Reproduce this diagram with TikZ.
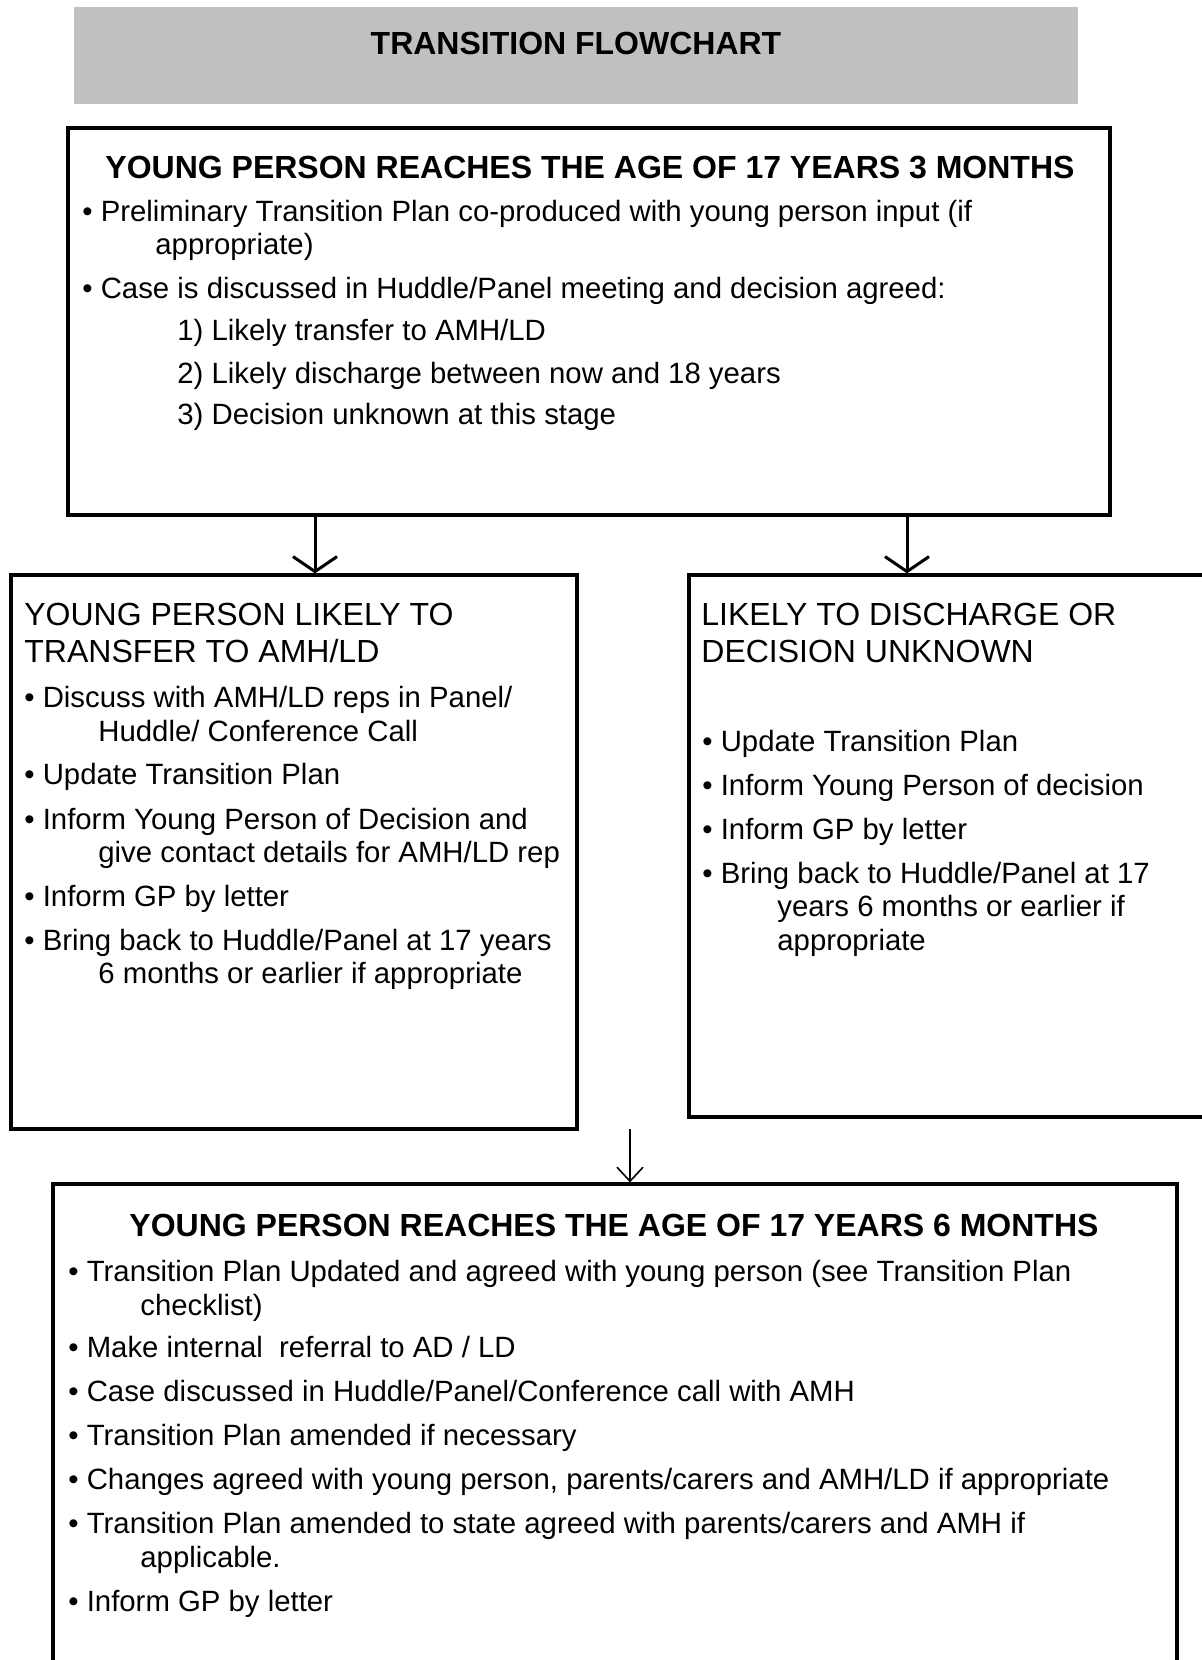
\documentclass[tikz,border=0pt]{standalone}
\usepackage{fontspec}
\setmainfont{Liberation Sans}
\usetikzlibrary{arrows.meta}
\usetikzlibrary{fit}
\definecolor{bannergray}{RGB}{192,192,192}

\tikzset{
  box/.style={draw=black, line width=1.6pt, inner sep=0pt},
  head/.style={font=\fontsize{16}{19}\selectfont\bfseries, inner sep=0pt, anchor=base},
  subhead/.style={font=\fontsize{16}{19}\selectfont, inner sep=0pt, anchor=base west},
  txt/.style={font=\fontsize{14.67}{17}\selectfont, inner sep=0pt, anchor=base west},
  arr/.style={line width=1.5pt, ->, >={Straight Barb[length=7.5pt,width=22pt]}},
}

\begin{document}
\begin{tikzpicture}[x=0.5pt, y=-0.5pt]
\clip (0,0) rectangle (1202,1660);
\node[fill=bannergray, inner sep=0pt, fit={(74,7) (1078,104)}] (banner) {};
\node[head] (title) at (576,54) {TRANSITION FLOWCHART};
% boxes
\node[box, fit={(68,128) (1110,515)}] (age3) {};
\node[box, fit={(11,575) (577,1129)}] (transfer) {};
\node[box, fit={(689,575) (1215,1117)}] (discharge) {};
\node[box, fit={(53,1184) (1177,1700)}] (age6) {};
% 17 years 3 months
\node[head] (age3title) at (590,178) {YOUNG PERSON REACHES THE AGE OF 17 YEARS 3 MONTHS};
\foreach \x/\y/\t [count=\i] in {
  82/221/{• Preliminary Transition Plan co-produced with young person input (if},
  155/254/{appropriate)},
  82/298/{• Case is discussed in Huddle/Panel meeting and decision agreed:},
  177/340/{1) Likely transfer to AMH/LD},
  177/383/{2) Likely discharge between now and 18 years},
  177/424/{3) Decision unknown at this stage}}
  \node[txt] (age3l\i) at (\x,\y) {\t};
% transfer
\node[subhead] (transfercap1) at (24,625) {YOUNG PERSON LIKELY TO};
\node[subhead] (transfercap2) at (24,662) {TRANSFER TO AMH/LD};
\foreach \x/\y/\t [count=\i] in {
  24/707/{• Discuss with AMH/LD reps in Panel/},
  98/741/{Huddle/ Conference Call},
  24/784/{• Update Transition Plan},
  24/829/{• Inform Young Person of Decision and},
  98/862/{give contact details for AMH/LD rep},
  24/906/{• Inform GP by letter},
  24/950/{• Bring back to Huddle/Panel at 17 years},
  98/983/{6 months or earlier if appropriate}}
  \node[txt] (transferl\i) at (\x,\y) {\t};
% discharge
\node[subhead] (dischargecap1) at (701,625) {LIKELY TO DISCHARGE OR};
\node[subhead] (dischargecap2) at (701,662) {DECISION UNKNOWN};
\foreach \x/\y/\t [count=\i] in {
  702/751/{• Update Transition Plan},
  702/795/{• Inform Young Person of decision},
  702/839/{• Inform GP by letter},
  702/883/{• Bring back to Huddle/Panel at 17},
  777/916/{years 6 months or earlier if},
  777/950/{appropriate}}
  \node[txt] (dischargel\i) at (\x,\y) {\t};
% 17 years 6 months
\node[head] (age6title) at (614,1236) {YOUNG PERSON REACHES THE AGE OF 17 YEARS 6 MONTHS};
\foreach \x/\y/\t [count=\i] in {
  68/1281/{• Transition Plan Updated and agreed with young person (see Transition Plan},
  140/1315/{checklist)},
  68/1357/{• Make internal\ \ referral to AD / LD},
  68/1401/{• Case discussed in Huddle/Panel/Conference call with AMH},
  68/1445/{• Transition Plan amended if necessary},
  68/1489/{• Changes agreed with young person, parents/carers and AMH/LD if appropriate},
  68/1533/{• Transition Plan amended to state agreed with parents/carers and AMH if},
  140/1567/{applicable.},
  68/1611/{• Inform GP by letter}}
  \node[txt] (age6l\i) at (\x,\y) {\t};
% arrows
\path (315,0) coordinate (d1) (907,0) coordinate (d2) (630,1129) coordinate (d3);
\draw[arr] (age3.south -| d1) -- (transfer.north -| d1);
\draw[arr] (age3.south -| d2) -- (discharge.north -| d2);
\draw[arr, line width=0.8pt, >={Straight Barb[length=7pt,width=13pt]}] (d3) -- (age6.north -| d3);
\end{tikzpicture}
\end{document}
